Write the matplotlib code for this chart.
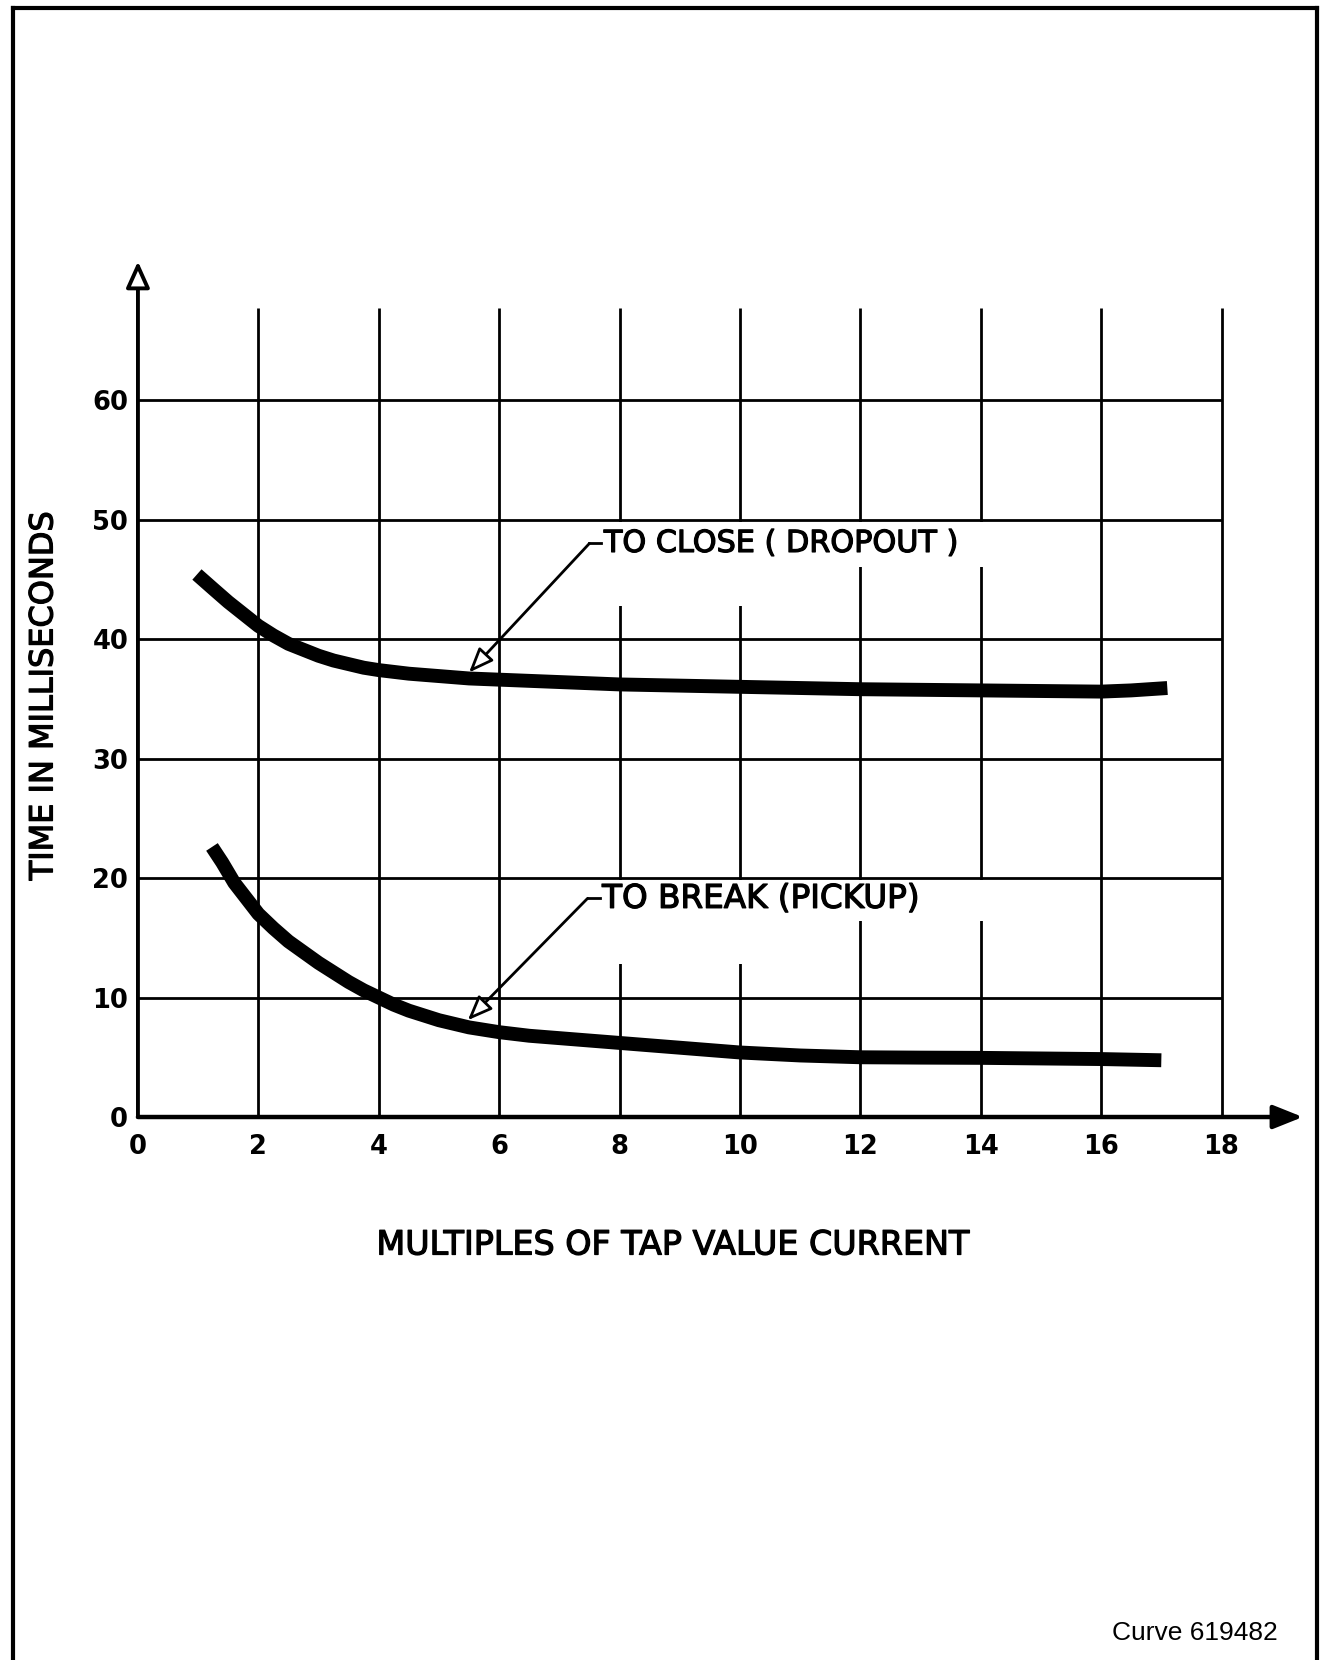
import matplotlib
matplotlib.use('Agg')
import matplotlib.pyplot as plt
import matplotlib.patheffects as pe
from matplotlib.lines import Line2D
from matplotlib.patches import Rectangle

# curve readings (multiples of tap value current -> time in ms)
close_x = [0.98, 1.25, 1.5, 1.75, 2.0, 2.25, 2.5, 2.75, 3.0, 3.25, 3.5, 3.75, 4.0, 4.5,
           5.0, 5.5, 6.0, 7.0, 8.0, 9.0, 10.0, 11.0, 12.0, 13.0, 14.0, 15.0, 16.0, 16.5, 17.1]
close_y = [45.4, 44.2, 43.1, 42.1, 41.1, 40.3, 39.6, 39.1, 38.6, 38.2, 37.9, 37.6, 37.4, 37.1,
           36.9, 36.7, 36.6, 36.4, 36.2, 36.1, 36.0, 35.9, 35.8, 35.75, 35.7, 35.65, 35.6, 35.7, 35.9]

break_x = [1.23, 1.4, 1.6, 1.8, 2.0, 2.25, 2.5, 2.75, 3.0, 3.25, 3.5, 3.75, 4.0, 4.25, 4.5,
           4.75, 5.0, 5.5, 6.0, 6.5, 7.0, 7.5, 8.0, 9.0, 10.0, 11.0, 12.0, 13.0, 14.0, 15.0, 16.0, 17.0]
break_y = [22.6, 21.3, 19.6, 18.3, 17.0, 15.8, 14.7, 13.8, 12.9, 12.1, 11.3, 10.6, 10.0, 9.4, 8.9,
           8.5, 8.1, 7.5, 7.1, 6.8, 6.6, 6.4, 6.2, 5.8, 5.4, 5.15, 5.0, 4.97, 4.95, 4.9, 4.85, 4.75]

x_ticks = [0, 2, 4, 6, 8, 10, 12, 14, 16, 18]
y_ticks = [0, 10, 20, 30, 40, 50, 60]

close_label = 'TO CLOSE ( DROPOUT )'
break_label = 'TO BREAK (PICKUP)'

heavy = [pe.withStroke(linewidth=0.9, foreground='black')]

fig = plt.figure(figsize=(13.2, 16.6), dpi=100)
ax = fig.add_axes([0.1045, 0.3271, 0.8893, 0.5183])
ax.set_xlim(0, 19.5)
ax.set_ylim(0, 72)
for s in ax.spines.values():
    s.set_visible(False)

# grid
ax.hlines(y_ticks[1:], 0, 18, color='black', lw=2, zorder=1)
ax.vlines(x_ticks[1:], 0, 67.7, color='black', lw=2, zorder=1)

# gaps in the grid behind the labels
ax.add_patch(Rectangle((7.6, 42.8), 3.6, 7.0, fc='white', ec='none', zorder=1.5))
ax.add_patch(Rectangle((7.6, 46.0), 8.0, 3.8, fc='white', ec='none', zorder=1.5))
ax.add_patch(Rectangle((7.6, 12.8), 3.6, 7.0, fc='white', ec='none', zorder=1.5))
ax.add_patch(Rectangle((7.6, 16.4), 8.0, 3.4, fc='white', ec='none', zorder=1.5))

# axes with arrows
ax.annotate('', xy=(0, 71.6), xytext=(0, 0), annotation_clip=False,
            arrowprops=dict(arrowstyle='-|>,head_length=0.8,head_width=0.36',
                            mutation_scale=20, lw=2.8, fc='white', ec='black',
                            shrinkA=0, shrinkB=0), zorder=3)
ax.annotate('', xy=(19.35, 0), xytext=(0, 0), annotation_clip=False,
            arrowprops=dict(arrowstyle='-|>,head_length=0.9,head_width=0.36',
                            mutation_scale=20, lw=3.2, fc='black', ec='black',
                            shrinkA=0, shrinkB=0), zorder=3)

# curves
ax.plot(close_x, close_y, color='black', lw=10, solid_capstyle='butt',
        solid_joinstyle='round', zorder=4)
ax.plot(break_x, break_y, color='black', lw=10, solid_capstyle='butt',
        solid_joinstyle='round', zorder=4)

# labels with leaders
for lab, size, tip, start in [(close_label, 21.8, (5.5, 37.2), (7.5, 48.0)),
                              (break_label, 23.5, (5.48, 8.1), (7.47, 18.3))]:
    ax.annotate('', xy=tip, xytext=start,
                arrowprops=dict(arrowstyle='-|>,head_length=0.75,head_width=0.3',
                                mutation_scale=20, lw=2, fc='white', ec='black',
                                shrinkA=0, shrinkB=0), zorder=5)
    ax.plot([start[0], start[0] + 0.2], [start[1], start[1]], color='black', lw=2, zorder=5)
    ax.text(start[0] + 0.24, start[1], lab, fontsize=size, ha='left', va='center',
            family='DejaVu Sans', zorder=6, path_effects=heavy)

ax.set_xticks(x_ticks)
ax.set_yticks(y_ticks)
ax.set_xticklabels([str(v) for v in x_ticks], fontsize=18.5, fontweight='bold')
ax.set_yticklabels([str(v) for v in y_ticks], fontsize=18.5, fontweight='bold')
ax.tick_params(axis='x', length=0, pad=12)
ax.tick_params(axis='y', length=0, pad=7)

fig.text(0.51, 0.25, 'MULTIPLES OF TAP VALUE CURRENT', fontsize=24,
         ha='center', va='center', path_effects=heavy)
fig.text(0.0333, 0.5807, 'TIME IN MILLISECONDS', fontsize=23, rotation=90,
         ha='center', va='center', path_effects=heavy)
fig.text(0.968, 0.0163, 'Curve 619482', fontsize=19, family='Liberation Sans',
         ha='right', va='center')

# page frame
fig.add_artist(Line2D([0.00985, 0.00985], [0, 0.9952], color='black', lw=3))
fig.add_artist(Line2D([0.9977, 0.9977], [0, 0.9952], color='black', lw=3))
fig.add_artist(Line2D([0.00985, 0.9977], [0.9952, 0.9952], color='black', lw=3))

fig.savefig('out.png', dpi=100)
